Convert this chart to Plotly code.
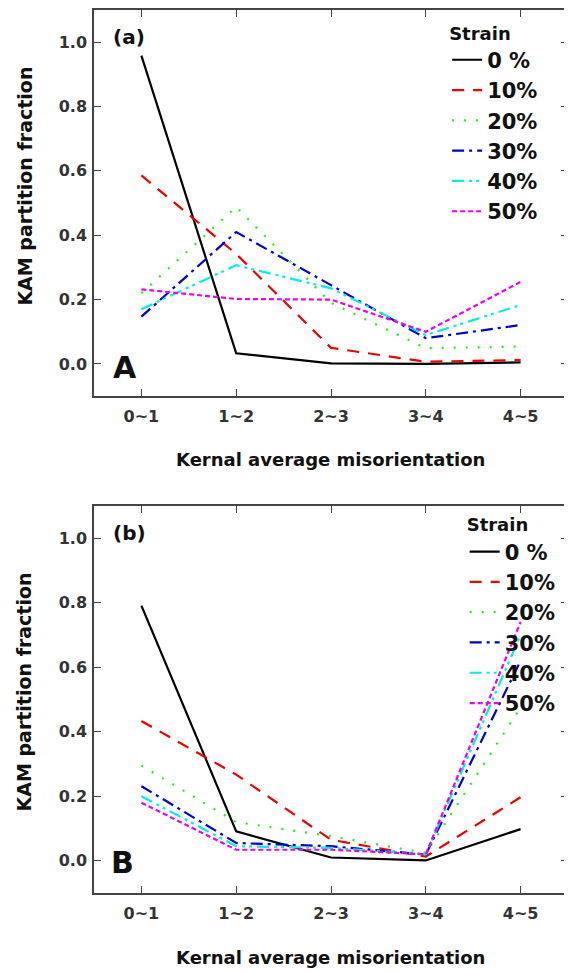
import plotly.graph_objects as go
from plotly.subplots import make_subplots

categories = ["0~1", "1~2", "2~3", "3~4", "4~5"]
strain_labels = ["0 %", "10%", "20%", "30%", "40%", "50%"]

# Panel (a)
a_0 = [0.958, 0.033, 0.002, 0.000, 0.005]
a_10 = [0.586, 0.342, 0.050, 0.007, 0.012]
a_20 = [0.220, 0.488, 0.190, 0.049, 0.054]
a_30 = [0.147, 0.410, 0.245, 0.080, 0.121]
a_40 = [0.170, 0.307, 0.235, 0.090, 0.183]
a_50 = [0.232, 0.202, 0.200, 0.100, 0.255]

# Panel (b)
b_0 = [0.791, 0.091, 0.010, 0.001, 0.098]
b_10 = [0.433, 0.267, 0.065, 0.013, 0.197]
b_20 = [0.295, 0.120, 0.076, 0.024, 0.475]
b_30 = [0.231, 0.055, 0.045, 0.019, 0.620]
b_40 = [0.200, 0.045, 0.040, 0.020, 0.700]
b_50 = [0.180, 0.034, 0.034, 0.020, 0.740]

y_ticks = [0.0, 0.2, 0.4, 0.6, 0.8, 1.0]

colors = ["#000000", "#ee0000", "#22ee22", "#0000cc", "#00eeee", "#ee00ee"]
dashes = ["solid", "12px,9px", "2px,10px", "12px,5px,3px,5px",
          "12px,5px,3px,4px,3px,5px", "5px,3px"]

fig = make_subplots(rows=2, cols=1)

FONT = "DejaVu Sans"
panels = [(a_0, a_10, a_20, a_30, a_40, a_50), (b_0, b_10, b_20, b_30, b_40, b_50)]
for p, series in enumerate(panels):
    for i, vals in enumerate(series):
        fig.add_trace(go.Scatter(
            x=categories, y=vals, mode="lines",
            line=dict(color=colors[i], width=2.2, dash=dashes[i]),
            name="<b>" + strain_labels[i] + "</b>",
            legend="legend" if p == 0 else "legend2",
            showlegend=True,
        ), row=p + 1, col=1)

axis_common = dict(
    showline=True, linecolor="#444444", linewidth=1.5, mirror="ticks",
    ticks="inside", ticklen=7, tickwidth=1.2, tickcolor="#444444",
    showgrid=False, zeroline=False,
    tickfont=dict(family=FONT, size=16, color="#333333", weight="bold"),
)
for r in (1, 2):
    fig.update_xaxes(type="category", categoryorder="array", categoryarray=categories,
                     range=[-0.5, 4.5], ticklabelstandoff=5, **axis_common, row=r, col=1)
    fig.update_yaxes(range=[-0.1, 1.1], tickvals=y_ticks, tickformat=".1f",
                     ticklabelstandoff=2, **axis_common, row=r, col=1)

leg_common = dict(
    xanchor="left", yanchor="top", xref="paper", yref="paper",
    bgcolor="rgba(0,0,0,0)", borderwidth=0,
    title=dict(text="<b>Strain</b>", font=dict(family=FONT, size=18, color="#111111")),
    font=dict(family=FONT, size=21, color="#111111"),
    tracegroupgap=0, itemwidth=30,
)

fig.update_layout(
    width=572, height=972,
    margin=dict(l=86, r=12, t=0, b=87),
    plot_bgcolor="white", paper_bgcolor="white",
    font=dict(family=FONT, color="#111111"),
    yaxis=dict(domain=[0.5627, 1.0]),
    yaxis2=dict(domain=[0.0, 0.4384]),
    legend=dict(x=0.745, y=0.993, **leg_common),
    legend2=dict(x=0.782, y=0.436, **leg_common),
)

ann = []
def add(text, x, y, xref, yref, size, angle=0):
    ann.append(dict(text=text, x=x, y=y, xref=xref, yref=yref, showarrow=False,
                    xanchor="center", yanchor="middle", textangle=angle,
                    font=dict(family=FONT, size=size, color="#111111")))

add("<b>(a)</b>", 0.074, 0.93, "x domain", "y domain", 20)
add("<b>A</b>", 0.065, 0.073, "x domain", "y domain", 30)
add("<b>(b)</b>", 0.074, 0.93, "x2 domain", "y2 domain", 20)
add("<b>B</b>", 0.061, 0.079, "x2 domain", "y2 domain", 30)
for yp in (0.8011, 0.2282):
    add("<b>KAM partition fraction</b>", -0.1456, yp, "paper", "paper", 19, -90)
for yp in (0.4915, -0.0734):
    add("<b>Kernal average misorientation</b>", 0.498, yp, "paper", "paper", 18)
fig.update_layout(annotations=ann)

fig.write_html("out.html")
